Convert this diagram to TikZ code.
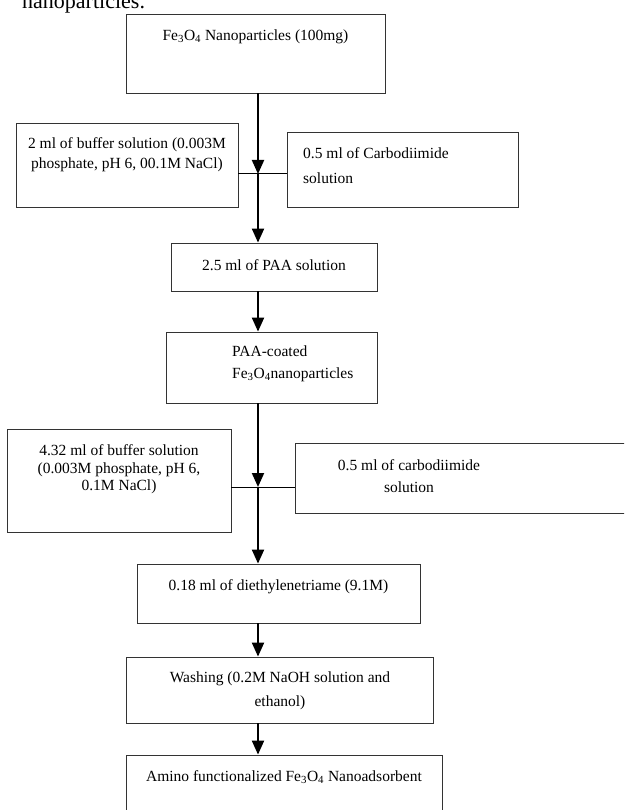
\documentclass[tikz,border=0pt]{standalone}
\usepackage{fontspec}
\setmainfont{Liberation Serif}
\usepackage{tikz}
\usetikzlibrary{arrows.meta}

\newcommand{\feo}{Fe\textsubscript{3}O\textsubscript{4}}

\begin{document}
\begin{tikzpicture}[
  x=1pt,
  y=-1pt,
  box/.style={draw=black!80,line width=0.8pt,inner sep=0pt},
  lab/.style={font=\fontsize{15.5}{21}\selectfont,align=center,inner sep=0pt},
  flow/.style={-{Triangle[width=12pt,length=14pt]},line width=2pt},
  tie/.style={line width=1pt}
]
\useasboundingbox (0,0) rectangle (624,810);
\clip (0,0) rectangle (624,810);
\node[font=\fontsize{22}{26}\selectfont,anchor=base west,inner sep=0pt] (cap) at (22,9) {nanoparticles.};
% boxes
\node[box,minimum width=259,minimum height=79] (b1) at (255.5,53.5) {};
\node[box,minimum width=222,minimum height=84] (b2) at (127,165) {};
\node[box,minimum width=231,minimum height=75] (b3) at (402.5,169.5) {};
\node[box,minimum width=206,minimum height=48] (b4) at (274,267) {};
\node[box,minimum width=211,minimum height=71] (b5) at (271.5,367.5) {};
\node[box,minimum width=224,minimum height=103] (b6) at (119,480.5) {};
\node[box,minimum width=345,minimum height=70] (b7) at (467.5,478) {};
\node[box,minimum width=283,minimum height=59] (b8) at (278.5,593.5) {};
\node[box,minimum width=307,minimum height=66] (b9) at (279.5,690) {};
\node[box,minimum width=316,minimum height=75] (b10) at (284,792.5) {};
% texts
\node[lab] (t1) at (255.5,37) {\feo{} Nanoparticles (100mg)};
\node[lab,font=\fontsize{15.5}{20}\selectfont] (t2) at (127,155) {2 ml of buffer solution (0.003M\\phosphate, pH 6, 00.1M NaCl)};
\node[lab,align=left,anchor=west,font=\fontsize{15.5}{25}\selectfont] (t3) at (303,165.5) {0.5 ml of Carbodiimide\\solution};
\node[lab] (t4) at (274,265) {2.5 ml of PAA solution};
\node[lab,align=left,anchor=west,font=\fontsize{15.5}{22}\selectfont] (t5) at (232,364) {PAA-coated\\\feo{}nanoparticles};
\node[lab,font=\fontsize{15.5}{17.5}\selectfont] (t6) at (119,469.5) {4.32 ml of buffer solution\\(0.003M phosphate, pH 6,\\0.1M NaCl)};
\node[lab,font=\fontsize{15.5}{22}\selectfont] (t7) at (409,476) {0.5 ml of carbodiimide\\solution};
\node[lab] (t8) at (278.5,587) {0.18 ml of diethylenetriame (9.1M)};
\node[lab,font=\fontsize{15.5}{24}\selectfont] (t9) at (280,691) {Washing (0.2M NaOH solution and\\ethanol)};
\node[lab] (t10) at (284,777) {Amino functionalized \feo{} Nanoadsorbent};
% junctions
\coordinate (j1) at (258,174);
\coordinate (j2) at (258,487);
% connectors
\draw[tie] (b2.east |- j1) -- (b3.west |- j1);
\draw[tie] (b6.east |- j2) -- (b7.west |- j2);
\draw[flow] (b1.south -| j1) -- (j1);
\draw[flow] (j1) -- (b4.north -| j1);
\draw[flow] (b4.south -| j1) -- (b5.north -| j1);
\draw[flow] (b5.south -| j1) -- (j2);
\draw[flow] (j2) -- (b8.north -| j2);
\draw[flow] (b8.south -| j2) -- (b9.north -| j2);
\draw[flow] (b9.south -| j2) -- (b10.north -| j2);
\end{tikzpicture}
\end{document}
